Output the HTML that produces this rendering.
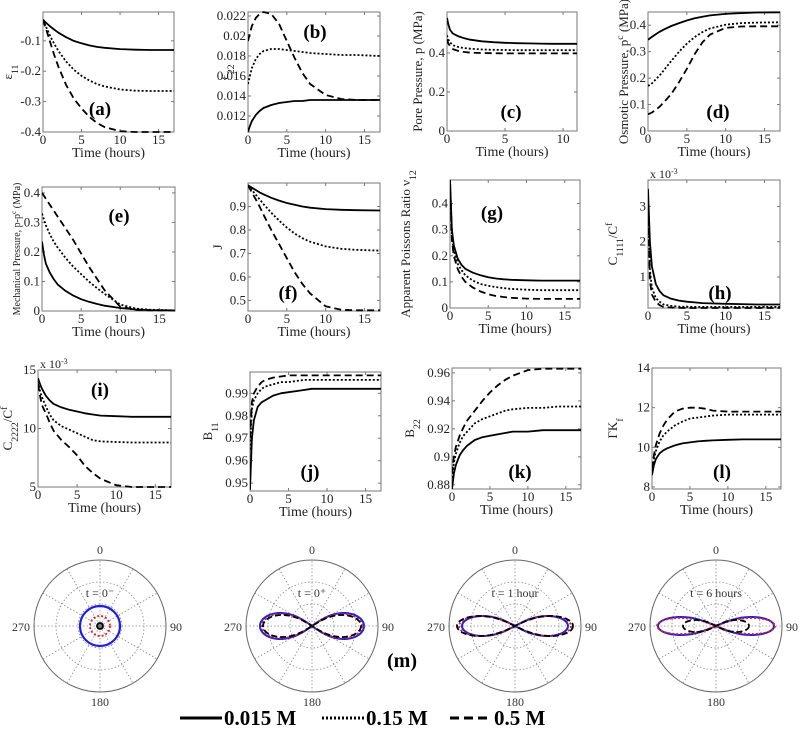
<!DOCTYPE html>
<html><head><meta charset="utf-8"><style>
html,body{margin:0;padding:0;background:#fff}
svg{display:block;font-family:"Liberation Serif",serif}
</style></head><body>
<svg id="fig" width="800" height="731" viewBox="0 0 800 731" xmlns="http://www.w3.org/2000/svg"></svg>
<script>
const T = [0,0.25,0.5,1,1.5,2,3,4,5,6,7,8,10,12,14,17];
const Tc = [0,0.1,0.25,0.5,1,1.5,2,3,4,5,6,7,8,9,10,11.2];
const aSolid=[-0.03,-0.037,-0.043,-0.054,-0.064,-0.073,-0.088,-0.1,-0.108,-0.115,-0.12,-0.123,-0.127,-0.129,-0.13,-0.13];
const aDot=[-0.03,-0.045,-0.06,-0.088,-0.112,-0.133,-0.168,-0.195,-0.215,-0.23,-0.242,-0.25,-0.26,-0.264,-0.265,-0.265];
const aDash=[-0.03,-0.05,-0.07,-0.11,-0.15,-0.185,-0.245,-0.29,-0.322,-0.35,-0.37,-0.384,-0.397,-0.4,-0.4,-0.4];
const bSolid=[0.0104,0.011,0.0115,0.0121,0.0125,0.0128,0.0131,0.0133,0.0134,0.0135,0.0135,0.0136,0.0136,0.0136,0.0136,0.0136];
const bDot=[0.0152,0.016,0.0168,0.0177,0.0182,0.0185,0.0187,0.0187,0.0186,0.0185,0.0184,0.0183,0.0182,0.0181,0.0181,0.018];
const bDash=[0.0195,0.0203,0.021,0.0218,0.0222,0.0224,0.0222,0.0212,0.0195,0.0178,0.0163,0.0152,0.0141,0.0137,0.0136,0.0136];
const cSolid=[0.58,0.55,0.52,0.5,0.485,0.475,0.468,0.46,0.455,0.452,0.45,0.449,0.448,0.447,0.447,0.447];
const cDot=[0.49,0.47,0.455,0.44,0.43,0.425,0.422,0.418,0.416,0.415,0.414,0.414,0.414,0.414,0.414,0.414];
const cDash=[0.47,0.45,0.435,0.42,0.41,0.405,0.402,0.4,0.399,0.398,0.398,0.398,0.398,0.398,0.398,0.398];
const dSolid=[0.345,0.35,0.356,0.366,0.375,0.383,0.397,0.408,0.418,0.426,0.432,0.437,0.443,0.446,0.448,0.449];
const dDot=[0.17,0.175,0.18,0.195,0.21,0.228,0.265,0.3,0.33,0.355,0.374,0.388,0.402,0.408,0.41,0.411];
const dDash=[0.063,0.066,0.07,0.08,0.092,0.107,0.14,0.185,0.235,0.29,0.335,0.365,0.39,0.395,0.396,0.396];
const eSolid=[0.235,0.19,0.16,0.13,0.108,0.09,0.068,0.052,0.04,0.031,0.024,0.018,0.01,0.005,0.003,0.002];
const eDot=[0.33,0.31,0.29,0.26,0.235,0.215,0.18,0.15,0.125,0.1,0.078,0.058,0.022,0.008,0.004,0.002];
const eDash=[0.4,0.39,0.38,0.36,0.34,0.32,0.28,0.24,0.195,0.15,0.11,0.07,0.015,0.004,0.002,0.002];
const fSolid=[0.99,0.985,0.98,0.97,0.96,0.952,0.937,0.925,0.915,0.907,0.9,0.895,0.889,0.886,0.884,0.883];
const fDot=[0.99,0.98,0.97,0.95,0.93,0.91,0.873,0.84,0.81,0.785,0.765,0.75,0.73,0.72,0.715,0.712];
const fDash=[0.99,0.975,0.96,0.93,0.9,0.865,0.8,0.74,0.68,0.62,0.57,0.53,0.475,0.46,0.458,0.458];
const gSolid=[0.49,0.3,0.24,0.19,0.165,0.15,0.135,0.125,0.118,0.113,0.11,0.108,0.106,0.105,0.105,0.105];
const gDot=[0.49,0.28,0.22,0.17,0.145,0.125,0.105,0.092,0.085,0.08,0.076,0.073,0.07,0.068,0.068,0.068];
const gDash=[0.49,0.26,0.2,0.15,0.12,0.1,0.078,0.063,0.053,0.046,0.042,0.039,0.036,0.035,0.035,0.035];
const hSolid=[3.5,2.0,1.3,0.8,0.6,0.48,0.38,0.33,0.3,0.28,0.26,0.25,0.24,0.23,0.22,0.22];
const hDot=[3.3,1.2,0.7,0.4,0.3,0.22,0.18,0.16,0.15,0.15,0.15,0.15,0.15,0.15,0.15,0.15];
const hDash=[3.0,0.9,0.5,0.3,0.2,0.15,0.13,0.125,0.12,0.12,0.12,0.12,0.12,0.12,0.12,0.12];
const iSolid=[14.3,13.8,13.4,12.8,12.4,12.1,11.8,11.6,11.45,11.3,11.2,11.1,11.05,11,11,11];
const iDot=[14,13.2,12.7,11.9,11.2,10.7,10.2,9.9,9.6,9.3,9.0,8.9,8.85,8.8,8.8,8.8];
const iDash=[13.8,12.8,12.0,11.3,10.5,9.8,9.0,8.4,7.7,6.8,6.2,5.7,5.15,5.0,5.0,5.0];
const jSolid=[0.947,0.97,0.978,0.984,0.986,0.987,0.989,0.99,0.9905,0.991,0.9915,0.992,0.992,0.992,0.992,0.992];
const jDot=[0.965,0.983,0.987,0.99,0.992,0.993,0.994,0.995,0.995,0.9955,0.996,0.996,0.996,0.996,0.996,0.996];
const jDash=[0.97,0.986,0.99,0.993,0.995,0.996,0.997,0.9975,0.998,0.998,0.998,0.998,0.998,0.998,0.998,0.998];
const kSolid=[0.877,0.888,0.894,0.901,0.905,0.908,0.912,0.914,0.915,0.916,0.917,0.918,0.918,0.919,0.919,0.919];
const kDot=[0.885,0.896,0.902,0.91,0.915,0.918,0.924,0.927,0.929,0.931,0.933,0.934,0.935,0.935,0.936,0.936];
const kDash=[0.888,0.9,0.907,0.915,0.921,0.926,0.933,0.94,0.946,0.951,0.955,0.958,0.962,0.963,0.963,0.963];
const lSolid=[8.6,9.1,9.4,9.7,9.85,9.95,10.1,10.2,10.25,10.3,10.33,10.35,10.38,10.4,10.4,10.4];
const lDot=[8.8,9.4,9.8,10.3,10.6,10.8,11.1,11.3,11.45,11.5,11.55,11.6,11.65,11.65,11.65,11.65];
const lDash=[8.9,9.6,10.1,10.7,11.1,11.4,11.8,11.95,12.0,12.0,11.95,11.85,11.8,11.8,11.8,11.8];
const xTicks=[0,5,10,15];
const xTicksC=[0,5,10];
const polarTitles=["t = 0\u207B","t = 0\u207A","t = 1 hour","t = 6 hours"];
const polarWidths=[[52,50,49],[53,56,58],[58,59,33]];
const polarHeights=[[13,12,11],[10,10,10],[9,8,6]];
const circleRadii=[20,10,3];

const NS="http://www.w3.org/2000/svg";
const svg=document.getElementById('fig');
function mk(tag,attrs,parent,txt){const e=document.createElementNS(NS,tag);for(const k in attrs)e.setAttribute(k,attrs[k]);if(txt!==undefined)e.textContent=txt;(parent||svg).appendChild(e);return e;}
const styles={solid:"",dot:"2,2",dash:"7,4"};

const panels=[
 {id:"a",box:[43,12,174,132],xl:[0,17],yl:[-0.4,-0.005],yt:[-0.4,-0.3,-0.2,-0.1],t:T,s:[aSolid,aDot,aDash],lab:[100,115],ylab:"ε",sub:"11",yx:12},
 {id:"b",box:[248,12,380,132],xl:[0,17],yl:[0.0104,0.0224],yt:[0.012,0.014,0.016,0.018,0.02,0.022],t:T,s:[bSolid,bDot,bDash],lab:[315,38],ylab:"ε",sub:"22",yx:228},
 {id:"c",box:[447,12,577,131],xl:[0,11.2],yl:[0,0.61],yt:[0,0.2,0.4],t:Tc,s:[cSolid,cDot,cDash],lab:[511,118],ylab:"Pore Pressure, p (MPa)",yx:422,xt:xTicksC},
 {id:"d",box:[648,12,780,131],xl:[0,17],yl:[0,0.45],yt:[0,0.1,0.2,0.3,0.4],t:T,s:[dSolid,dDot,dDash],lab:[718,118],ylab:"Osmotic Pressure, p",sup:"c",tail:" (MPa)",yx:628},
 {id:"e",box:[42,187,175,311],xl:[0,17],yl:[0,0.42],yt:[0,0.1,0.2,0.3,0.4],t:T,s:[eSolid,eDot,eDash],lab:[119,222],ylab:"Mechanical Pressure, p-p",sup:"c",tail:" (MPa)",yx:20,fs:10},
 {id:"f",box:[248,183,380,311],xl:[0,17],yl:[0.455,1.0],yt:[0.5,0.6,0.7,0.8,0.9],t:T,s:[fSolid,fDot,fDash],lab:[288,299],ylab:"J",yx:222},
 {id:"g",box:[450,180,580,308],xl:[0,17],yl:[0,0.49],yt:[0,0.1,0.2,0.3,0.4],t:T,s:[gSolid,gDot,gDash],lab:[492,219],ylab:"Apparent Poissons Ratio ν",sub:"12",yx:410},
 {id:"h",box:[648,180,780,308],xl:[0,17],yl:[0.12,3.75],yt:[1,2,3],t:T,s:[hSolid,hDot,hDash],lab:[720,299],ylab:"C",sub:"1111",tail:"/C",sup2:"f",yx:617,exp:true},
 {id:"i",box:[38,370,171,487],xl:[0,17],yl:[5,15],yt:[5,10,15],t:T,s:[iSolid,iDot,iDash],lab:[100,396],ylab:"C",sub:"2222",tail:"/C",sup2:"f",yx:12,exp:true},
 {id:"j",box:[250,372,381,491],xl:[0,17],yl:[0.9465,0.9995],yt:[0.95,0.96,0.97,0.98,0.99],t:T,s:[jSolid,jDot,jDash],lab:[310,478],ylab:"B",sub:"11",yx:212},
 {id:"k",box:[452,368,581,489],xl:[0,17],yl:[0.877,0.9635],yt:[0.88,0.9,0.92,0.94,0.96],t:T,s:[kSolid,kDot,kDash],lab:[520,478],ylab:"B",sub:"22",yx:414},
 {id:"l",box:[652,368,781,489],xl:[0,17],yl:[7.9,14],yt:[8,10,12,14],t:T,s:[lSolid,lDot,lDash],lab:[722,478],ylab:"ΓK",sub:"f",yx:617}
];
const sNames=["solid","dot","dash"];
const sLabels=["0-015m","0-15m","0-5m"];
panels.forEach(p=>{
 const [l,t,r,b]=p.box;
 const g=mk('g',{});
 
 
 const X=v=>l+(v-p.xl[0])/(p.xl[1]-p.xl[0])*(r-l);
 const Y=v=>b-(v-p.yl[0])/(p.yl[1]-p.yl[0])*(b-t);
 const box=mk('rect',{x:l,y:t,width:r-l,height:b-t,fill:'#fff',stroke:'#777','stroke-width':1},g);
 
 
 const clipId='clip'+p.id;
 const cp=mk('clipPath',{id:clipId},g);mk('rect',{x:l,y:t-2,width:r-l,height:b-t+4},cp);
 const xt=p.xt||xTicks;
 xt.forEach(v=>{const x=X(v);
  mk('line',{x1:x,x2:x,y1:b,y2:b-3,stroke:'#777'},g);mk('line',{x1:x,x2:x,y1:t,y2:t+3,stroke:'#777'},g);
  const tx=mk('text',{x:x,y:b+12,'font-size':13,'text-anchor':'middle',fill:'#222'},g,String(v));
  
  });
 p.yt.forEach(v=>{const y=Y(v);
  mk('line',{x1:l,x2:l+3,y1:y,y2:y,stroke:'#777'},g);mk('line',{x1:r,x2:r-3,y1:y,y2:y,stroke:'#777'},g);
  const tx=mk('text',{x:l-2,y:y+4,'font-size':13,'text-anchor':'end',fill:'#222'},g,String(v));
  
  });
 p.s.forEach((arr,k)=>{
  const pts=arr.map((v,i)=>X(p.t[i]).toFixed(1)+','+Y(v).toFixed(1)).join(' ');
  const pl=mk('polyline',{points:pts,fill:'none',stroke:'#000','stroke-width':1.8,'stroke-dasharray':styles[sNames[k]],'clip-path':'url(#'+clipId+')','stroke-linejoin':'round'},g);
  
  
 });
 const xl=mk('text',{x:(l+r)/2,y:b+25,'font-size':14,'text-anchor':'middle',fill:'#222'},g,'Time (hours)');
 
 
 const yl=mk('text',{x:p.yx,y:(t+b)/2,'font-size':p.fs||13,'text-anchor':'middle',fill:'#222',transform:'rotate(-90 '+p.yx+' '+(t+b)/2+')'},g);
 
 
 mk('tspan',{},yl,p.ylab);
 if(p.sub) mk('tspan',{'baseline-shift':'sub','font-size':(p.fs||13)*0.75},yl,p.sub);
 if(p.sup) mk('tspan',{'baseline-shift':'super','font-size':(p.fs||13)*0.75},yl,p.sup);
 if(p.tail) mk('tspan',{},yl,p.tail);
 if(p.sup2) mk('tspan',{'baseline-shift':'super','font-size':(p.fs||13)*0.75},yl,p.sup2);
 if(p.exp){const ex=mk('text',{x:l+2,y:t-2,'font-size':12,fill:'#222'},g);mk('tspan',{},ex,'x 10');mk('tspan',{'baseline-shift':'super','font-size':8},ex,'-3');
  
  }
 const pl=mk('text',{x:p.lab[0],y:p.lab[1],'font-size':19,'font-weight':'bold','text-anchor':'middle',fill:'#000'},g,'('+p.id+')');
 
 
});

// polar plots
const centers=[100,312,515,716];const cy=626;const R=66;
const colors=['#1f1fe0','#e02020','#000'];
const pdash=['', '2,2','6,3'];
centers.forEach((cx,n)=>{
 const g=mk('g',{});
 
 
 mk('circle',{cx:cx,cy:cy,r:R,fill:'#fff',stroke:'#666','stroke-width':1},g);
 [R/3,2*R/3].forEach(rr=>mk('circle',{cx:cx,cy:cy,r:rr,fill:'none',stroke:'#888','stroke-dasharray':'1.5,2','stroke-width':0.8},g));
 for(let a=0;a<180;a+=30){const rad=a*Math.PI/180;
  mk('line',{x1:cx-R*Math.sin(rad),y1:cy+R*Math.cos(rad),x2:cx+R*Math.sin(rad),y2:cy-R*Math.cos(rad),stroke:'#888','stroke-dasharray':'1.5,2','stroke-width':0.8},g);}
 [['0',cx,cy-R-6],['180',cx,cy+R+14],['270',cx-R-13,cy+5],['90',cx+R+10,cy+5]].forEach(d=>{
  const tx=mk('text',{x:d[1],y:d[2],'font-size':12,'text-anchor':'middle',fill:'#333'},g,d[0]);
  
  });
 const tt=mk('text',{x:cx,y:cy-R/2+4,'font-size':12,'text-anchor':'middle',fill:'#333'},g,polarTitles[n]);
 
 
 if(n===0){
  circleRadii.forEach((rr,k)=>{
   const c=mk('circle',{cx:cx,cy:cy,r:rr,fill:k===2?'#777':'none',stroke:colors[k],'stroke-width':k===0?2.2:1.8,'stroke-dasharray':pdash[k==1?1:0]},g);
   
   
  });
 } else {
  const ws=polarWidths[n-1],hs=polarHeights[n-1];
  [0,1,2].forEach(k=>{
   const a=ws[k],h=hs[k];const pts=[];
   for(let i=0;i<=120;i++){const s=i/120*2*Math.PI;const d=1+Math.sin(s)**2;
    pts.push((cx+a*Math.cos(s)/d).toFixed(1)+','+(cy+h/0.3536*Math.sin(s)*Math.cos(s)/d).toFixed(1));}
   const pl=mk('polyline',{points:pts.join(' '),fill:'none',stroke:colors[k],'stroke-width':k===0?2:1.8,'stroke-dasharray':k===0?'':(k===1?'2,2':'6,3')},g);
   
   
  });
 }
});
const m=mk('text',{x:402,y:667,'font-size':20,'font-weight':'bold','text-anchor':'middle'},svg,'(m)');



// legend
const lg=mk('g',{});


const legItems=[[180,"0.015 M",''],[322,"0.15 M",'2,2'],[450,"0.5 M",'9,5']];
legItems.forEach((it,k)=>{
 const e=mk('g',{},lg);
 
 
 mk('line',{x1:it[0],x2:it[0]+42,y1:718,y2:718,stroke:'#000','stroke-width':3,'stroke-dasharray':it[2]},e);
 mk('text',{x:it[0]+44,y:725,'font-size':21,'font-weight':'bold'},e,it[1]);
});
</script>
</body></html>
